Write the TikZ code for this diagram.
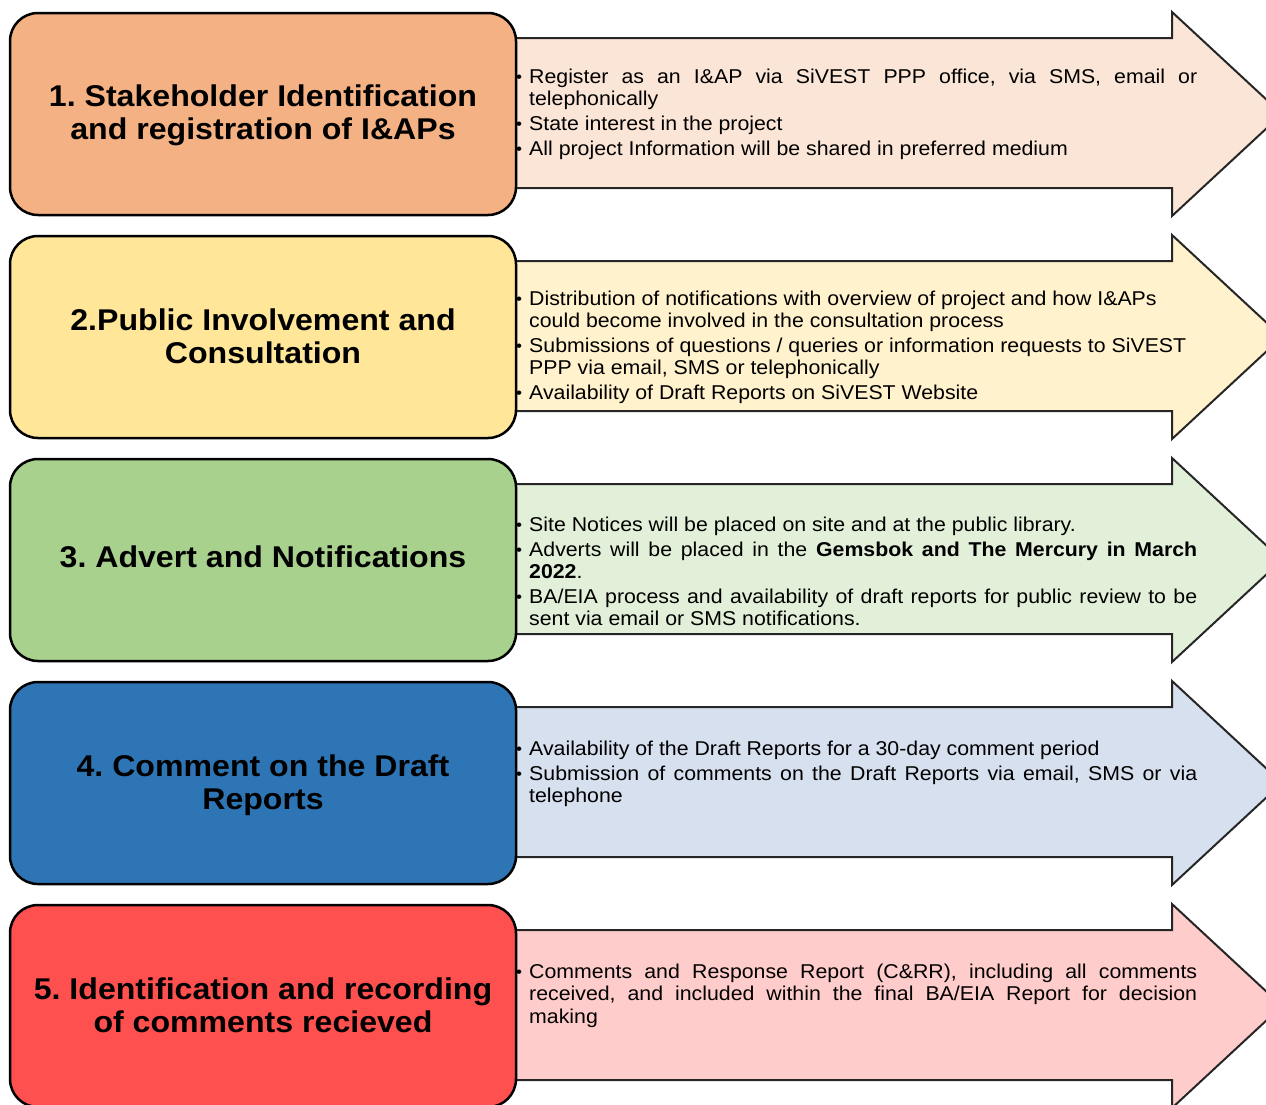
\documentclass[tikz,border=0pt]{standalone}
\usepackage{fontspec}
\setmainfont{Liberation Sans}
\newfontfamily\descfamily[FakeStretch=1.065]{Liberation Sans}
\newfontfamily\titlefamily[FakeStretch=1.07]{Liberation Sans}
\frenchspacing
\definecolor{boxA}{HTML}{F4B183}
\definecolor{arrA}{HTML}{FBE5D6}
\definecolor{boxB}{HTML}{FFE699}
\definecolor{arrB}{HTML}{FFF2CC}
\definecolor{boxC}{HTML}{A9D18E}
\definecolor{arrC}{HTML}{E2F0D9}
\definecolor{boxD}{HTML}{2E75B6}
\definecolor{arrD}{HTML}{D6E0EE}
\definecolor{boxE}{HTML}{FF5050}
\definecolor{arrE}{HTML}{FFCCCC}
\definecolor{arrline}{HTML}{262626}
\newcommand\dfont{\descfamily\fontsize{20}{22.5}\selectfont\frenchspacing}
\newcommand\tfont{\titlefamily\bfseries\fontsize{30}{33}\selectfont\frenchspacing}
\newcommand\bul{\hbox to 13pt{\raisebox{0.5pt}{\fontsize{16}{16}\selectfont\textbullet}\hss}}
\newcommand\nob{\hbox to 13pt{\hss}}
\newcommand\jl[2]{\hbox to 681pt{#1\hbox to 668pt{#2}}}
\newcommand\rl[2]{\hbox to 681pt{#1\hbox to 668pt{#2\hfil}}}
\newcommand\gap{\vskip3pt}
\newcommand\tl[1]{\hbox to 506pt{\hss #1\hss}}
\tikzset{
  stagebox/.style={draw=black, line width=2.5pt, rounded corners=28pt,
    minimum width=506pt, minimum height=202pt, inner sep=0pt},
  flowarrow/.style={draw=arrline, line width=2pt, line join=miter},
  desc/.style={anchor=base west, inner sep=0pt, font=\dfont},
  ttl/.style={anchor=base, inner sep=0pt, font=\tfont}
}
\newcommand\arrowshape[2]{% #1 = top y, #2 = fill
  \draw[flowarrow, fill=#2] (480,#1+25) -- (1172,#1+25) -- (1172,#1-1) -- (1282,#1+101)
    -- (1172,#1+203) -- (1172,#1+175) -- (480,#1+175) -- cycle;}
\begin{document}
\begin{tikzpicture}[x=1pt,y=-1pt]
\useasboundingbox (0,0) rectangle (1266,1104);
\clip (0,0) rectangle (1266,1104);

% Row 1
\arrowshape{13}{arrA}
\node[stagebox, fill=boxA] (b1) at (263,114) {};
\node[ttl] (t1) at (263,106) {\vtop{\baselineskip=33pt
  \tl{1. Stakeholder Identification}
  \tl{and registration of I\&APs}}};
\node[desc] (d1) at (516,83) {\vtop{\baselineskip=22pt
  \jl{\bul}{Register as an I\&AP via SiVEST PPP office, via SMS, email or}
  \rl{\nob}{telephonically}\gap
  \rl{\bul}{State interest in the project}\gap
  \rl{\bul}{All project Information will be shared in preferred medium}}};

% Row 2
\arrowshape{236}{arrB}
\node[stagebox, fill=boxB] (b2) at (263,337) {};
\node[ttl] (t2) at (263,330) {\vtop{\baselineskip=33pt
  \tl{2.Public Involvement and}
  \tl{Consultation}}};
\node[desc] (d2) at (516,305) {\vtop{\baselineskip=22pt
  \rl{\bul}{Distribution of notifications with overview of project and how I\&APs}
  \rl{\nob}{could become involved in the consultation process}\gap
  \rl{\bul}{Submissions of questions / queries or information requests to SiVEST}
  \rl{\nob}{PPP via email, SMS or telephonically}\gap
  \rl{\bul}{Availability of Draft Reports on SiVEST Website}}};

% Row 3
\arrowshape{459}{arrC}
\node[stagebox, fill=boxC] (b3) at (263,560) {};
\node[ttl] (t3) at (263,567) {\tl{3. Advert and Notifications}};
\node[desc] (d3) at (516,531) {\vtop{\baselineskip=22pt
  \rl{\bul}{Site Notices will be placed on site and at the public library.}\gap
  \jl{\bul}{Adverts will be placed in the \textbf{Gemsbok and The Mercury in March}}
  \rl{\nob}{\textbf{2022}.}\gap
  \jl{\bul}{BA/EIA process and availability of draft reports for public review to be}
  \rl{\nob}{sent via email or SMS notifications.}}};

% Row 4
\arrowshape{682}{arrD}
\node[stagebox, fill=boxD] (b4) at (263,783) {};
\node[ttl] (t4) at (263,776) {\vtop{\baselineskip=33pt
  \tl{4. Comment on the Draft}
  \tl{Reports}}};
\node[desc] (d4) at (516,755) {\vtop{\baselineskip=22pt
  \rl{\bul}{Availability of the Draft Reports for a 30-day comment period}\gap
  \jl{\bul}{Submission of comments on the Draft Reports via email, SMS or via}
  \rl{\nob}{telephone}}};

% Row 5
\arrowshape{905}{arrE}
\node[stagebox, fill=boxE] (b5) at (263,1006) {};
\node[ttl] (t5) at (263,999) {\vtop{\baselineskip=33pt
  \tl{5. Identification and recording}
  \tl{of comments recieved}}};
\node[desc] (d5) at (516,978) {\vtop{\baselineskip=22.5pt
  \jl{\bul}{Comments and Response Report (C\&RR), including all comments}
  \jl{\nob}{received, and included within the final BA/EIA Report for decision}
  \rl{\nob}{making}}};
\end{tikzpicture}
\end{document}
